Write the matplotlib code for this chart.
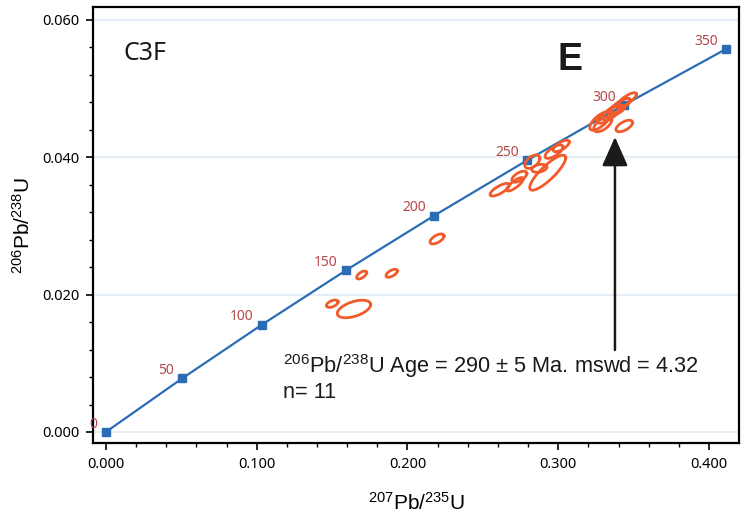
import numpy as np
import matplotlib
matplotlib.use("Agg")
import matplotlib.pyplot as plt
from matplotlib.ticker import MultipleLocator, FormatStrFormatter

plt.rcParams['mathtext.default'] = 'regular'

# concordia reference points (age in Ma, 207Pb/235U, 206Pb/238U)
ages = [0, 50, 100, 150, 200, 250, 300, 350]
r75 = [0.0, 0.05048, 0.10350, 0.15919, 0.21771, 0.27917, 0.34375, 0.41155]
r68 = [0.0, 0.00779, 0.01563, 0.02354, 0.03151, 0.03954, 0.04764, 0.05580]

# error ellipses: centre, half-width in x, half-height in y, correlation
ell_x = [0.1696, 0.1895, 0.1501, 0.1645, 0.2196, 0.2612, 0.2713, 0.2742,
         0.2828, 0.2930, 0.2874, 0.2972, 0.3020, 0.3438, 0.3277, 0.3295,
         0.3355, 0.3405, 0.3454, 0.3388, 0.3432, 0.3310]
ell_y = [0.02286, 0.02311, 0.01868, 0.01791, 0.02811, 0.03528, 0.03607, 0.03718,
         0.03936, 0.03776, 0.03840, 0.04082, 0.04165, 0.04456, 0.04529, 0.04481,
         0.04650, 0.04747, 0.04835, 0.04689, 0.04787, 0.04583]
ell_sx = [0.00332, 0.00378, 0.00385, 0.01108, 0.00464, 0.00643, 0.00551, 0.00498,
          0.00498, 0.01194, 0.00498, 0.00597, 0.00531, 0.00551, 0.00683, 0.00597,
          0.00597, 0.00663, 0.00643, 0.00531, 0.00464, 0.00531]
ell_sy = [0.00058, 0.00058, 0.00054, 0.00128, 0.00073, 0.00092, 0.00098, 0.00080,
          0.00098, 0.00255, 0.00058, 0.00098, 0.00084, 0.00084, 0.00134, 0.00109,
          0.00109, 0.00109, 0.00106, 0.00073, 0.00073, 0.00087]
ell_rho = [0.6, 0.6, 0.5, 0.5, 0.6, 0.75, 0.8, 0.6, 0.5, 0.85, 0.3, 0.7,
           0.7, 0.6, 0.7, 0.6, 0.7, 0.8, 0.8, 0.6, 0.6, 0.6]

fig = plt.figure(figsize=(7.45, 5.16), dpi=100)
ax = fig.add_axes([0.1252, 0.1409, 0.8668, 0.845])

ax.set_xlim(-0.0084, 0.4199)
ax.set_ylim(-0.00165, 0.06185)

ax.grid(axis='y', which='major', color='#e6edf5', lw=1.5, zorder=0)

# concordia
ax.plot(r75, r68, '-', color='#2a6db5', lw=1.6, zorder=3)
ax.plot(r75, r68, 's', color='#2a6db5', ms=6, zorder=4)
for a, x, y in zip(ages, r75, r68):
    ax.annotate(str(a), (x, y), xytext=(-6, 3), textcoords='offset points',
                ha='right', va='baseline', color='#b5474b', fontsize=10,
                family='Noto Sans', annotation_clip=False)

# error ellipses
t = np.linspace(0, 2*np.pi, 200)
for cx, cy, sx, sy, rho in zip(ell_x, ell_y, ell_sx, ell_sy, ell_rho):
    ex = cx + sx*np.cos(t)
    ey = cy + sy*(rho*np.cos(t) + np.sqrt(1 - rho**2)*np.sin(t))
    ax.plot(ex, ey, color='#f15a2b', lw=2.0, zorder=5)

# arrow to the cluster
ax.annotate('', xy=(0.3376, 0.04296), xytext=(0.3376, 0.01194),
            arrowprops=dict(arrowstyle='-|>,head_length=0.9,head_width=0.4',
                            mutation_scale=20, color='#1a1a1a', lw=1.8,
                            shrinkA=0, shrinkB=0), zorder=6)

ax.text(0.0119, 0.0542, 'C3F', fontsize=18, family='Noto Sans', color='#1a1a1a')
ax.text(0.2992, 0.0527, 'E', fontsize=27, family='Liberation Sans',
        fontweight='bold', color='#1a1a1a')
ax.text(0.1172, 0.00864, r'$^{206}$Pb/$^{238}$U Age = 290 ± 5 Ma. mswd = 4.32',
        fontsize=15.7, family='Liberation Sans', color='#1a1a1a')
ax.text(0.1172, 0.00491, 'n= 11', fontsize=15.7, family='Liberation Sans',
        color='#1a1a1a')

# axes styling
ax.xaxis.set_major_locator(MultipleLocator(0.1))
ax.xaxis.set_minor_locator(MultipleLocator(0.02))
ax.yaxis.set_major_locator(MultipleLocator(0.02))
ax.yaxis.set_minor_locator(MultipleLocator(0.004))
ax.xaxis.set_major_formatter(FormatStrFormatter('%.3f'))
ax.yaxis.set_major_formatter(FormatStrFormatter('%.3f'))
ax.tick_params(which='major', length=5, width=1.2, direction='out', labelsize=10.5, pad=5)
ax.tick_params(which='minor', length=3, width=1.0, direction='out')
for lab in ax.get_xticklabels() + ax.get_yticklabels():
    lab.set_family('Noto Sans')
for s in ax.spines.values():
    s.set_linewidth(1.6)

ax.set_xlabel(r'$^{207}$Pb/$^{235}$U', fontsize=15, family='Liberation Sans', labelpad=14)
ax.set_ylabel(r'$^{206}$Pb/$^{238}$U', fontsize=15, family='Liberation Sans', labelpad=6)

fig.savefig('out.png', dpi=100)
